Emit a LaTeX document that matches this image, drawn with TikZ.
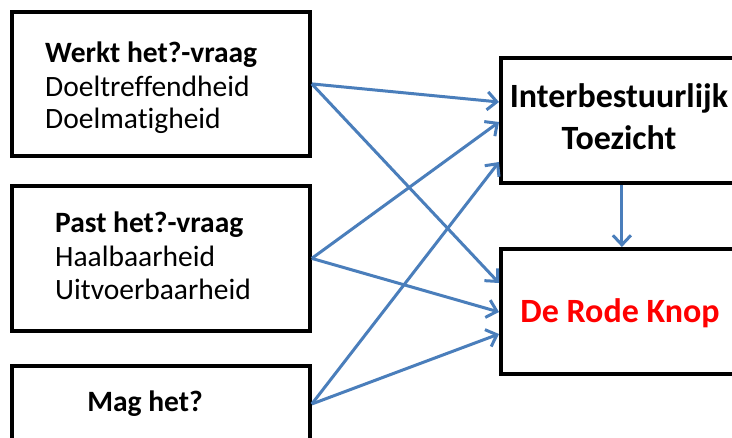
\documentclass[tikz,border=0pt]{standalone}
\usepackage{fontspec}
\setmainfont{Carlito}[Ligatures=NoCommon]
\usetikzlibrary{arrows.meta}
\definecolor{arrblue}{RGB}{74,126,187}
\definecolor{knopred}{RGB}{255,0,0}
\tikzset{
  box/.style={draw=black, line width=3.8pt, fill=white, inner sep=0pt, anchor=north west},
  txt/.style={inner sep=0pt, font=\fontsize{29.5}{34}\selectfont},
  btxt/.style={inner sep=0pt, font=\fontsize{29.5}{34}\selectfont\bfseries},
  rtxt/.style={inner sep=0pt, font=\fontsize{34}{40}\selectfont\bfseries},
  conn/.style={draw=arrblue, line width=3pt, -{Straight Barb[length=9.5pt,width=18pt]}}
}
\begin{document}
\begin{tikzpicture}[x=1pt,y=-1pt]
\useasboundingbox (0,0) rectangle (732,438);
\clip (0,0) rectangle (732,438);
\fill[white] (0,0) rectangle (732,438);
% left boxes
\node[box, minimum width=298pt, minimum height=144pt] (b1) at (10,10) {};
\node[box, minimum width=298pt, minimum height=145pt] (b2) at (10,184) {};
\node[box, minimum width=298pt, minimum height=150pt] (b3) at (10,364) {};
% right boxes
\node[box, minimum width=242pt, minimum height=125pt] (r1) at (499,56) {};
\node[box, minimum width=242pt, minimum height=125pt] (r2) at (499,247) {};
% texts
\node[btxt, anchor=base west] (t11) at (45,63) {Werkt het?-vraag};
\node[txt, anchor=base west] (t12) at (45,97) {Doeltreffendheid};
\node[txt, anchor=base west] (t13) at (45,129) {Doelmatigheid};
\node[btxt, anchor=base west] (t21) at (55,233) {Past het?-vraag};
\node[txt, anchor=base west] (t22) at (55,267) {Haalbaarheid};
\node[txt, anchor=base west] (t23) at (55,300) {Uitvoerbaarheid};
\node[btxt, anchor=base] (t31) at (145,412) {Mag het?};
\node[rtxt, anchor=base] (r1a) at (619,108) {Interbestuurlijk};
\node[rtxt, anchor=base] (r1b) at (619,150) {Toezicht};
\node[rtxt, anchor=base, text=knopred] (r2a) at (620,323) {De Rode Knop};
% connectors
\coordinate (s3) at ([yshift=-40pt]b3.north east);
\draw[conn] (b1.east) -- (r1.west |- 0,102);
\draw[conn] (b1.east) -- (r2.west |- 0,283);
\draw[conn] (b2.east) -- (r1.west |- 0,122);
\draw[conn] (b2.east) -- (r2.west |- 0,312);
\draw[conn] (s3) -- (r1.west |- 0,162);
\draw[conn] (s3) -- (r2.west |- 0,334);
\draw[conn] (r1.south) -- (r2.north);
\end{tikzpicture}
\end{document}
